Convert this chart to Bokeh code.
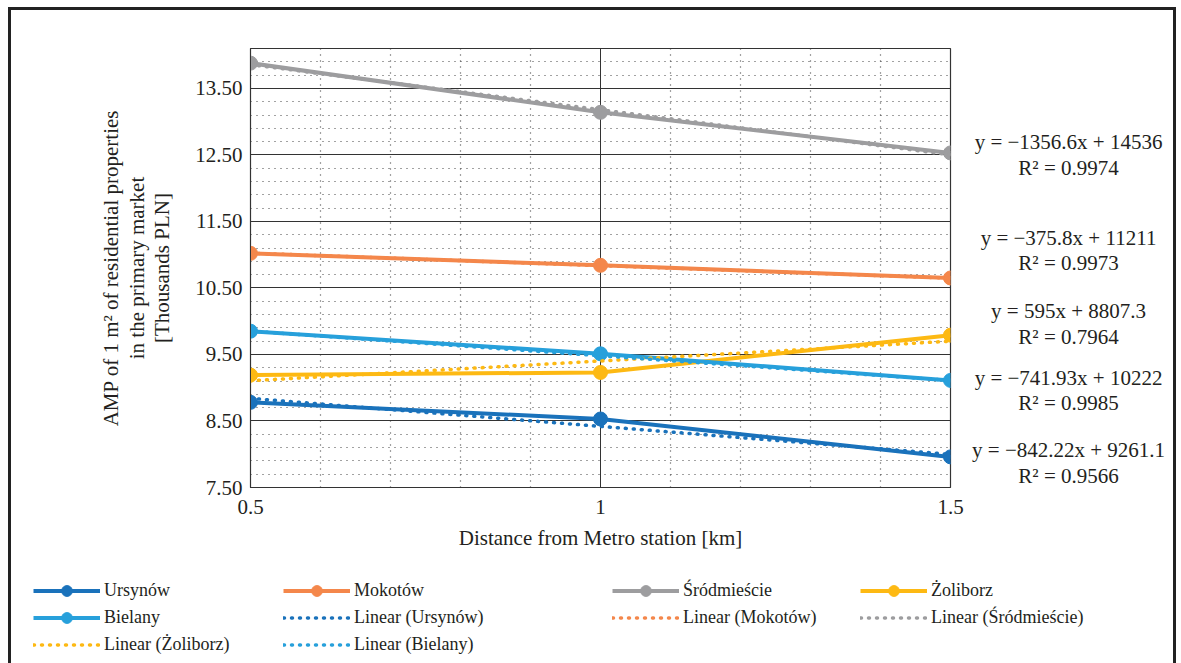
from bokeh.plotting import figure
from bokeh.layouts import column, row
from bokeh.models import FixedTicker, Legend, LegendItem, NumeralTickFormatter, Range1d
from bokeh.core.properties import value
from bokeh.embed import file_html
from bokeh.resources import INLINE

# ---------------- data ----------------
distance_km = [0.5, 1.0, 1.5]
districts = ["Ursynów", "Mokotów", "Śródmieście", "Żoliborz", "Bielany"]
ursynow = [8.78, 8.53, 7.96]
mokotow = [11.02, 10.84, 10.65]
srodmiescie = [13.88, 13.14, 12.53]
zoliborz = [9.19, 9.23, 9.79]
bielany = [9.85, 9.51, 9.11]
series_values = [ursynow, mokotow, srodmiescie, zoliborz, bielany]

# linear trend coefficients as printed on the chart (PLN per km, PLN)
trend_slopes = [-842.22, -375.8, -1356.6, 595.0, -741.93]
trend_intercepts = [9261.1, 11211.0, 14536.0, 8807.3, 10222.0]
trend_equations = ["y = −842.22x + 9261.1", "y = −375.8x + 11211",
                   "y = −1356.6x + 14536", "y = 595x + 8807.3",
                   "y = −741.93x + 10222"]
r2_labels = ["R² = 0.9566", "R² = 0.9973", "R² = 0.9974", "R² = 0.7964", "R² = 0.9985"]

x_ticks = [0.5, 1.0, 1.5]
x_tick_labels = {0.5: "0.5", 1.0: "1", 1.5: "1.5"}
x_minor_ticks = [0.6, 0.7, 0.8, 0.9, 1.1, 1.2, 1.3, 1.4]
y_ticks = [7.5, 8.5, 9.5, 10.5, 11.5, 12.5, 13.5]
y_minor_ticks = [7.7, 7.9, 8.1, 8.3, 8.7, 8.9, 9.1, 9.3, 9.7, 9.9, 10.1, 10.3,
                 10.7, 10.9, 11.1, 11.3, 11.7, 11.9, 12.1, 12.3, 12.7, 12.9,
                 13.1, 13.3, 13.7, 13.9]

# ---------------- style ----------------
colors = ["#1a72bb", "#f4874b", "#9d9d9f", "#fdb913", "#27a0db"]
FONT = "Liberation Serif"
TXT = "#231f20"
eq_label_x = 0.483
eq_label_y = [(8.06, 7.68), (11.25, 10.87), (12.69, 12.30), (10.15, 9.77), (9.14, 8.77)]

yr = Range1d(7.5, 14.1)

# ---------------- main chart ----------------
p = figure(width=959, height=550, x_range=(0.5, 1.5), y_range=yr,
           output_backend="svg", toolbar_location=None,
           min_border_left=239, min_border_right=20, min_border_top=38,
           min_border_bottom=73)
p.background_fill_color = "white"
p.border_fill_color = "white"
p.outline_line_color = "#333333"
p.outline_line_width = 1.2

p.xaxis.ticker = FixedTicker(ticks=x_ticks, minor_ticks=x_minor_ticks)
p.yaxis.ticker = FixedTicker(ticks=y_ticks, minor_ticks=y_minor_ticks)
p.xaxis.major_label_overrides = x_tick_labels
p.yaxis.formatter = NumeralTickFormatter(format="0.00")

for ax in (p.xaxis, p.yaxis):
    ax.major_tick_line_color = None
    ax.minor_tick_line_color = None
    ax.axis_line_color = "#333333"
    ax.major_label_text_font = FONT
    ax.major_label_text_font_size = "21px"
    ax.major_label_text_color = TXT
    ax.axis_label_text_font = FONT
    ax.axis_label_text_font_size = "21px"
    ax.axis_label_text_font_style = "normal"
    ax.axis_label_text_color = TXT

p.xaxis.axis_label = "Distance from Metro station [km]"
p.xaxis.major_label_standoff = 6
p.xaxis.axis_label_standoff = 9
p.yaxis.axis_label = "AMP of 1 m² of residential properties\nin the primary market\n[Thousands PLN]"
p.yaxis.axis_label_text_line_height = 1.07
p.yaxis.major_label_standoff = 2
p.yaxis.axis_label_standoff = 18

for g in (p.xgrid, p.ygrid):
    g.grid_line_color = "#333333"
    g.grid_line_width = 1
    g.minor_grid_line_color = "#444444"
    g.minor_grid_line_dash = "1 5"
    g.minor_grid_line_width = 1.2

for vals, col in zip(series_values, colors):
    p.line(distance_km, vals, line_color=col, line_width=4)
    p.scatter(distance_km, vals, size=14, fill_color=col, line_color=col)
for slope, icpt, col in zip(trend_slopes, trend_intercepts, colors):
    ty = [(slope * x + icpt) / 1000.0 for x in distance_km]
    p.line(distance_km, ty, line_color=col, line_width=3.5,
           line_dash="1 7", line_cap="round")

# ---------------- trend equations (right side, shared y scale) ----------------
q = figure(width=203, height=550, x_range=(0, 1), y_range=yr,
           output_backend="svg", toolbar_location=None,
           min_border_left=0, min_border_right=0, min_border_top=38,
           min_border_bottom=73, x_axis_type=None, y_axis_type=None)
q.outline_line_color = None
q.grid.visible = False
eq_x, eq_y, eq_t = [], [], []
for i in range(5):
    for txt, yy in zip((trend_equations[i], r2_labels[i]), eq_label_y[i]):
        eq_x.append(eq_label_x)
        eq_y.append(yy)
        eq_t.append(txt)
q.text(x=eq_x, y=eq_y, text=eq_t, text_align="center", text_baseline="middle",
       text_font=value(FONT), text_font_size="21px", text_color=TXT)

# ---------------- legend panel ----------------
# the series are drawn again here but lie outside this panel's ranges,
# so only their legend glyphs are visible
lf = figure(width=1162, height=103, x_range=(0, 0.1), y_range=(0, 1),
            output_backend="svg", toolbar_location=None,
            min_border_left=0, min_border_right=0, min_border_top=0,
            min_border_bottom=0, x_axis_type=None, y_axis_type=None)
lf.outline_line_color = None
lf.grid.visible = False

ser_r = []
trend_r = []
for vals, slope, icpt, col in zip(series_values, trend_slopes, trend_intercepts, colors):
    a = lf.line(distance_km, vals, line_color=col, line_width=4)
    b = lf.scatter(distance_km, vals, size=14, fill_color=col, line_color=col)
    ser_r.append([a, b])
    ty = [(slope * x + icpt) / 1000.0 for x in distance_km]
    t = lf.line(distance_km, ty, line_color=col, line_width=3.5, line_dash="1 7",
                line_cap="round")
    trend_r.append(t)

def item(k, trend=False):
    if trend:
        return LegendItem(label="Linear (" + districts[k] + ")", renderers=[trend_r[k]])
    return LegendItem(label=districts[k], renderers=ser_r[k])

legend_cols = [
    ([item(0), item(4), item(3, True)], (22, 5)),
    ([item(1), item(0, True), item(4, True)], (272, 5)),
    ([item(2), item(1, True)], (601, 32)),
    ([item(3), item(2, True)], (849, 32)),
]
for items, loc in legend_cols:
    lg = Legend(items=items, location=loc, orientation="vertical",
                glyph_width=67, glyph_height=27, label_height=20, spacing=0,
                label_standoff=4, padding=0, margin=0,
                border_line_alpha=0, background_fill_alpha=0,
                label_text_font=FONT, label_text_font_size="18px",
                label_text_color=TXT)
    lf.add_layout(lg, "center")

layout = column(row(p, q), lf)
layout.margin = (7, 0, 0, 8)
layout.styles = {"border-top": "3px solid #222", "border-left": "3px solid #222",
                 "border-right": "3px solid #222"}

open("out.html", "w").write(file_html(layout, INLINE))
